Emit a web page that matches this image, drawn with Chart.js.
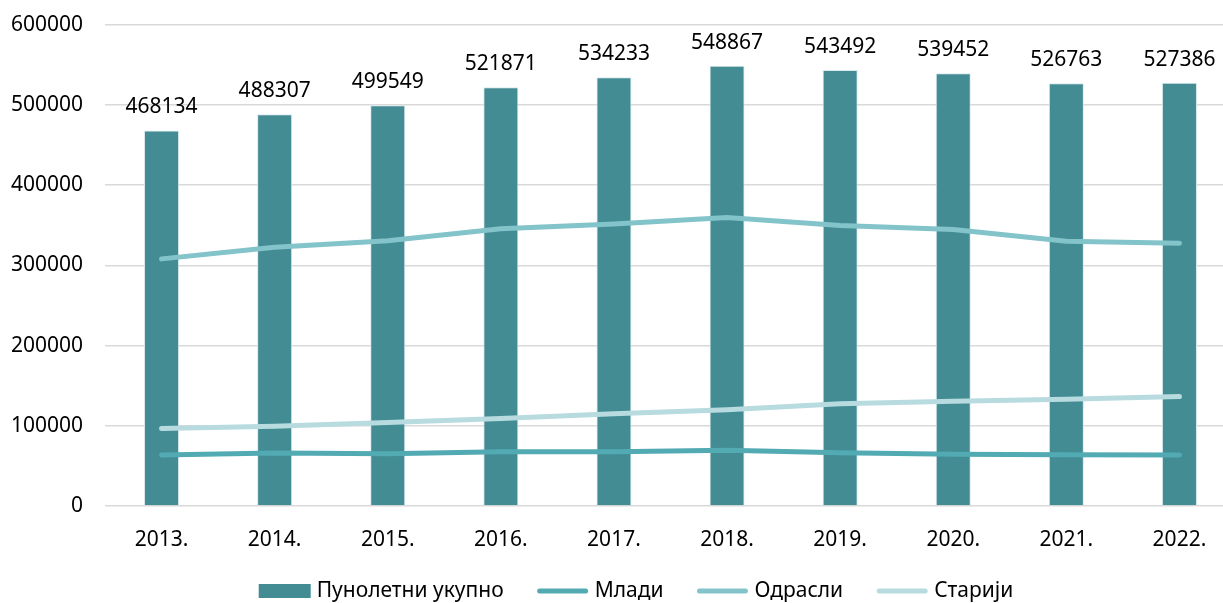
<!DOCTYPE html>
<html>
<head>
<meta charset="utf-8">
<script src="https://cdn.jsdelivr.net/npm/chart.js@4"></script>
<style>
  html, body { margin: 0; padding: 0; background: #fff; overflow: hidden; }
  #wrap { width: 1280px; height: 613px; margin-top: -10px; }
</style>
</head>
<body>
<div id="wrap"><canvas id="chart" width="1280" height="613"></canvas></div>
<script>
// Data

var years = ['2013.', '2014.', '2015.', '2016.', '2017.', '2018.', '2019.', '2020.', '2021.', '2022.'];
var total = [468134, 488307, 499549, 521871, 534233, 548867, 543492, 539452, 526763, 527386];
var mladi = [63500, 66000, 65000, 67500, 67500, 69500, 66500, 64500, 64000, 63500];
var odrasli = [308000, 322500, 330500, 345500, 351500, 359500, 349500, 344500, 330000, 327500];
var stariji = [96500, 99500, 104000, 109000, 115000, 120000, 127500, 130500, 133000, 136500];
var yTicks = [0, 100000, 200000, 300000, 400000, 500000, 600000];

var FONT = '"Noto Sans", "Open Sans", sans-serif';

// Value labels over the bars
var barLabels = {
    id: 'barLabels',
    afterDatasetsDraw: function (chart) {
        var ctx = chart.ctx;
        var meta = chart.getDatasetMeta(0);
        ctx.save();
        ctx.font = '21px ' + FONT;
        ctx.fillStyle = '#000';
        ctx.textAlign = 'center';
        ctx.textBaseline = 'alphabetic';
        meta.data.forEach(function (bar, i) {
            ctx.fillText(String(total[i]), bar.x, bar.y - 17);
        });
        ctx.restore();
    }
};

// Legend drawn by hand so the line items look like lines
var bottomLegend = {
    id: 'bottomLegend',
    afterDraw: function (chart) {
        var ctx = chart.ctx;
        var sets = chart.data.datasets;
        var symW = 52, gap = 6, space = 33, cy = 601, cx = 636;
        ctx.save();
        ctx.font = '21px ' + FONT;
        var widths = sets.map(function (d) { return ctx.measureText(d.label).width; });
        var totalW = 0;
        widths.forEach(function (w, i) { totalW += symW + gap + w + (i ? space : 0); });
        var x = cx - totalW / 2;
        sets.forEach(function (d, i) {
            if (d.type === 'line') {
                ctx.strokeStyle = d.borderColor;
                ctx.lineWidth = 5;
                ctx.lineCap = 'round';
                ctx.beginPath();
                ctx.moveTo(x + 3, cy);
                ctx.lineTo(x + symW - 3, cy);
                ctx.stroke();
            } else {
                ctx.fillStyle = d.backgroundColor;
                ctx.fillRect(x, cy - 7, symW, 14);
            }
            ctx.fillStyle = '#000';
            ctx.textAlign = 'left';
            ctx.textBaseline = 'middle';
            ctx.fillText(d.label, x + symW + gap, cy);
            x += symW + gap + widths[i] + space;
        });
        ctx.restore();
    }
};

var config = {
    type: 'bar',
    data: {
        labels: years,
        datasets: [{
            label: 'Пунолетни укупно',
            data: total,
            backgroundColor: '#438C94',
            borderColor: '#d8e9eb',
            borderWidth: 1,
            barPercentage: 0.31,
            categoryPercentage: 1,
            order: 1
        }, {
            type: 'line',
            label: 'Млади',
            data: mladi,
            borderColor: '#52AAB2',
            backgroundColor: '#52AAB2',
            borderWidth: 5,
            borderCapStyle: 'round',
            pointRadius: 0,
            tension: 0,
            order: 0
        }, {
            type: 'line',
            label: 'Одрасли',
            data: odrasli,
            borderColor: '#83C3CA',
            backgroundColor: '#83C3CA',
            borderWidth: 5,
            borderCapStyle: 'round',
            pointRadius: 0,
            tension: 0,
            order: 0
        }, {
            type: 'line',
            label: 'Старији',
            data: stariji,
            borderColor: '#B8DBDF',
            backgroundColor: '#B8DBDF',
            borderWidth: 5,
            borderCapStyle: 'round',
            pointRadius: 0,
            tension: 0,
            order: 0
        }]
    },
    options: {
        responsive: false,
        animation: false,
        layout: { padding: { top: 0, right: 44, bottom: 51, left: 0 } },
        plugins: {
            legend: { display: false },
            tooltip: { enabled: false }
        },
        scales: {
            x: {
                grid: { display: false, drawTicks: false },
                border: { display: false },
                ticks: { color: '#000', font: { family: FONT, size: 21 }, padding: 21, maxRotation: 0 },
                afterFit: function (scale) { scale.height = 46; }
            },
            y: {
                min: 0,
                max: 600000,
                afterBuildTicks: function (scale) {
                    scale.ticks = yTicks.map(function (v) { return { value: v }; });
                },
                grid: { color: '#d9d9d9', lineWidth: 1.5, drawTicks: false },
                border: { display: false },
                ticks: {
                    color: '#000',
                    font: { family: FONT, size: 21 },
                    padding: 22,
                    callback: function (v) { return String(v); }
                },
                afterFit: function (scale) { scale.width = 105; }
            }
        }
    },
    plugins: [barLabels, bottomLegend]
};

window.onload = function () {
    var ctx = document.getElementById('chart').getContext('2d');
    window.myChart = new Chart(ctx, config);
};
</script>
</body>
</html>
